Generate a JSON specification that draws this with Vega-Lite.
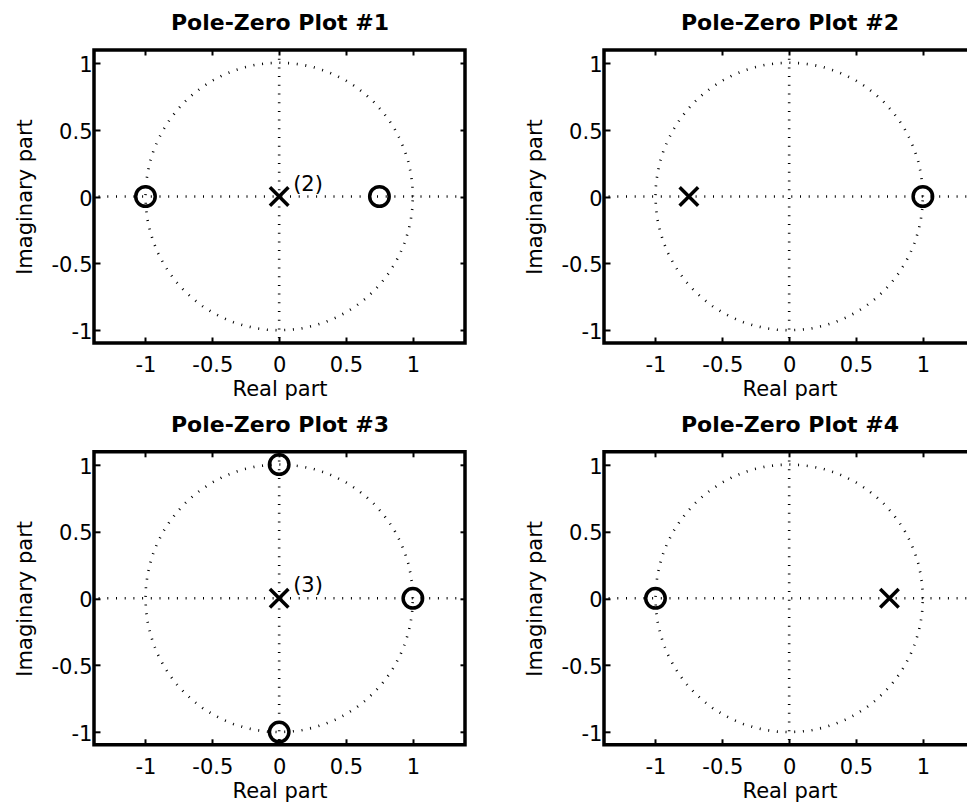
{
  "$schema": "https://vega.github.io/schema/vega-lite/v6.json",
  "padding": {"left": 12, "top": 9, "right": 0, "bottom": 0},
  "background": "white",
  "datasets": {
    "circle": [
      {"i":0,"re":1,"im":0},{"i":1,"re":0.9962,"im":0.0872},{"i":2,"re":0.9848,"im":0.1736},{"i":3,"re":0.9659,"im":0.2588},{"i":4,"re":0.9397,"im":0.342},{"i":5,"re":0.9063,"im":0.4226},{"i":6,"re":0.866,"im":0.5},{"i":7,"re":0.8192,"im":0.5736},{"i":8,"re":0.766,"im":0.6428},{"i":9,"re":0.7071,"im":0.7071},{"i":10,"re":0.6428,"im":0.766},{"i":11,"re":0.5736,"im":0.8192},{"i":12,"re":0.5,"im":0.866},{"i":13,"re":0.4226,"im":0.9063},{"i":14,"re":0.342,"im":0.9397},{"i":15,"re":0.2588,"im":0.9659},{"i":16,"re":0.1736,"im":0.9848},{"i":17,"re":0.0872,"im":0.9962},{"i":18,"re":0,"im":1},
      {"i":19,"re":-0.0872,"im":0.9962},{"i":20,"re":-0.1736,"im":0.9848},{"i":21,"re":-0.2588,"im":0.9659},{"i":22,"re":-0.342,"im":0.9397},{"i":23,"re":-0.4226,"im":0.9063},{"i":24,"re":-0.5,"im":0.866},{"i":25,"re":-0.5736,"im":0.8192},{"i":26,"re":-0.6428,"im":0.766},{"i":27,"re":-0.7071,"im":0.7071},{"i":28,"re":-0.766,"im":0.6428},{"i":29,"re":-0.8192,"im":0.5736},{"i":30,"re":-0.866,"im":0.5},{"i":31,"re":-0.9063,"im":0.4226},{"i":32,"re":-0.9397,"im":0.342},{"i":33,"re":-0.9659,"im":0.2588},{"i":34,"re":-0.9848,"im":0.1736},{"i":35,"re":-0.9962,"im":0.0872},{"i":36,"re":-1,"im":0},
      {"i":37,"re":-0.9962,"im":-0.0872},{"i":38,"re":-0.9848,"im":-0.1736},{"i":39,"re":-0.9659,"im":-0.2588},{"i":40,"re":-0.9397,"im":-0.342},{"i":41,"re":-0.9063,"im":-0.4226},{"i":42,"re":-0.866,"im":-0.5},{"i":43,"re":-0.8192,"im":-0.5736},{"i":44,"re":-0.766,"im":-0.6428},{"i":45,"re":-0.7071,"im":-0.7071},{"i":46,"re":-0.6428,"im":-0.766},{"i":47,"re":-0.5736,"im":-0.8192},{"i":48,"re":-0.5,"im":-0.866},{"i":49,"re":-0.4226,"im":-0.9063},{"i":50,"re":-0.342,"im":-0.9397},{"i":51,"re":-0.2588,"im":-0.9659},{"i":52,"re":-0.1736,"im":-0.9848},{"i":53,"re":-0.0872,"im":-0.9962},{"i":54,"re":0,"im":-1},
      {"i":55,"re":0.0872,"im":-0.9962},{"i":56,"re":0.1736,"im":-0.9848},{"i":57,"re":0.2588,"im":-0.9659},{"i":58,"re":0.342,"im":-0.9397},{"i":59,"re":0.4226,"im":-0.9063},{"i":60,"re":0.5,"im":-0.866},{"i":61,"re":0.5736,"im":-0.8192},{"i":62,"re":0.6428,"im":-0.766},{"i":63,"re":0.7071,"im":-0.7071},{"i":64,"re":0.766,"im":-0.6428},{"i":65,"re":0.8192,"im":-0.5736},{"i":66,"re":0.866,"im":-0.5},{"i":67,"re":0.9063,"im":-0.4226},{"i":68,"re":0.9397,"im":-0.342},{"i":69,"re":0.9659,"im":-0.2588},{"i":70,"re":0.9848,"im":-0.1736},{"i":71,"re":0.9962,"im":-0.0872},{"i":72,"re":1,"im":0}
    ],
    "origin": [{"v": 0}],
    "pz": [
      {"plot":1,"kind":"zero","re":-1,"im":0},{"plot":1,"kind":"zero","re":0.75,"im":0},{"plot":1,"kind":"pole","re":0,"im":0},
      {"plot":2,"kind":"pole","re":-0.75,"im":0},{"plot":2,"kind":"zero","re":1,"im":0},
      {"plot":3,"kind":"zero","re":0,"im":1},{"plot":3,"kind":"zero","re":0,"im":-1},{"plot":3,"kind":"zero","re":1,"im":0},{"plot":3,"kind":"pole","re":0,"im":0},
      {"plot":4,"kind":"zero","re":-1,"im":0},{"plot":4,"kind":"pole","re":0.75,"im":0}
    ],
    "mult": [
      {"plot":1,"re":0,"im":0,"label":"(2)"},
      {"plot":3,"re":0,"im":0,"label":"(3)"}
    ]
  },
  "columns": 2,
  "spacing": {"row": 108.8, "column": 139},
  "bounds": "flush",
  "concat": [
    {
      "width": 371, "height": 293,
      "resolve": {"axis": {"x": "independent", "y": "independent"}},
      "layer": [
        {"data": {"name": "circle"},
         "mark": {"type": "line", "strokeDash": [1, 7.7], "strokeWidth": 2.6, "color": "black", "strokeCap": "butt"},
         "encoding": {
           "x": {"field": "re", "type": "quantitative", "scale": {"domain": [-1.385, 1.39], "nice": false, "zero": false},
                 "axis": {"orient": "bottom", "title": "Real part", "values": [-1,-0.5,0,0.5,1], "format": "~g", "labelExpr": "datum.value < 0 ? replace(datum.label, '\u2212', '-') + '\u2007' : datum.label", "labelPadding": 17.7, "labelBaseline": "top", "titleX": 185.5, "titleY": 52.5, "titleBaseline": "alphabetic", "titleAlign": "center"}},
           "y": {"field": "im", "type": "quantitative", "scale": {"domain": [-1.095, 1.095], "nice": false, "zero": false},
                 "axis": {"orient": "left", "title": "Imaginary part", "values": [-1,-0.5,0,0.5,1], "format": "~g", "labelExpr": "replace(datum.label, '\u2212', '-')", "labelPadding": 8, "labelOffset": 2.5, "titleX": -63, "titleY": 146.5, "titleAngle": 270, "titleBaseline": "alphabetic", "titleAlign": "center"}},
           "order": {"field": "i", "type": "quantitative"}}},
        {"data": {"name": "origin"},
         "mark": {"type": "rule", "strokeDash": [1, 7.7], "strokeWidth": 2.6, "color": "black", "strokeCap": "butt"},
         "encoding": {"y": {"field": "v", "type": "quantitative", "scale": {"domain": [-1.095, 1.095], "nice": false, "zero": false}, "axis": null}}},
        {"data": {"name": "origin"},
         "mark": {"type": "rule", "strokeDash": [1, 7.7], "strokeWidth": 2.6, "color": "black", "strokeCap": "butt"},
         "encoding": {"x": {"field": "v", "type": "quantitative", "scale": {"domain": [-1.385, 1.39], "nice": false, "zero": false}, "axis": null}}},
        {"data": {"name": "pz"}, "transform": [{"filter": "datum.plot == 1"}],
         "mark": {"type": "point", "filled": false, "size": 380, "strokeWidth": 3.5, "color": "black", "opacity": 1},
         "encoding": {
           "x": {"field": "re", "type": "quantitative", "scale": {"domain": [-1.385, 1.39], "nice": false, "zero": false}, "axis": {"orient": "top", "values": [-1,-0.5,0,0.5,1], "labels": false, "title": "Pole-Zero Plot #1", "tickSize": -5, "titleX": 185.5, "titleY": -20.5, "titleBaseline": "alphabetic", "titleAlign": "center", "titleFontSize": 22, "titleFontWeight": "bold"}},
           "y": {"field": "im", "type": "quantitative", "scale": {"domain": [-1.095, 1.095], "nice": false, "zero": false}, "axis": {"orient": "right", "values": [-1,-0.5,0,0.5,1], "labels": false, "title": null, "tickSize": -5}},
           "shape": {"field": "kind", "type": "nominal", "scale": {"domain": ["zero", "pole"], "range": ["circle", "M-0.95,-0.95L0.95,0.95M0.95,-0.95L-0.95,0.95"]}, "legend": null}}},
        {"data": {"name": "mult"}, "transform": [{"filter": "datum.plot == 1"}],
         "mark": {"type": "text", "align": "left", "baseline": "alphabetic", "dx": 14, "dy": -6, "fontSize": 21, "color": "black", "font": "DejaVu Sans"},
         "encoding": {
           "x": {"field": "re", "type": "quantitative", "scale": {"domain": [-1.385, 1.39], "nice": false, "zero": false}, "axis": null},
           "y": {"field": "im", "type": "quantitative", "scale": {"domain": [-1.095, 1.095], "nice": false, "zero": false}, "axis": null},
           "text": {"field": "label"}}}
      ]
    },
    {
      "width": 371, "height": 293,
      "resolve": {"axis": {"x": "independent", "y": "independent"}},
      "layer": [
        {"data": {"name": "circle"},
         "mark": {"type": "line", "strokeDash": [1, 7.7], "strokeWidth": 2.6, "color": "black", "strokeCap": "butt"},
         "encoding": {
           "x": {"field": "re", "type": "quantitative", "scale": {"domain": [-1.385, 1.39], "nice": false, "zero": false},
                 "axis": {"orient": "bottom", "title": "Real part", "values": [-1,-0.5,0,0.5,1], "format": "~g", "labelExpr": "datum.value < 0 ? replace(datum.label, '\u2212', '-') + '\u2007' : datum.label", "labelPadding": 17.7, "labelBaseline": "top", "titleX": 185.5, "titleY": 52.5, "titleBaseline": "alphabetic", "titleAlign": "center"}},
           "y": {"field": "im", "type": "quantitative", "scale": {"domain": [-1.095, 1.095], "nice": false, "zero": false},
                 "axis": {"orient": "left", "title": "Imaginary part", "values": [-1,-0.5,0,0.5,1], "format": "~g", "labelExpr": "replace(datum.label, '\u2212', '-')", "labelPadding": 8, "labelOffset": 2.5, "titleX": -63, "titleY": 146.5, "titleAngle": 270, "titleBaseline": "alphabetic", "titleAlign": "center"}},
           "order": {"field": "i", "type": "quantitative"}}},
        {"data": {"name": "origin"},
         "mark": {"type": "rule", "strokeDash": [1, 7.7], "strokeWidth": 2.6, "color": "black", "strokeCap": "butt"},
         "encoding": {"y": {"field": "v", "type": "quantitative", "scale": {"domain": [-1.095, 1.095], "nice": false, "zero": false}, "axis": null}}},
        {"data": {"name": "origin"},
         "mark": {"type": "rule", "strokeDash": [1, 7.7], "strokeWidth": 2.6, "color": "black", "strokeCap": "butt"},
         "encoding": {"x": {"field": "v", "type": "quantitative", "scale": {"domain": [-1.385, 1.39], "nice": false, "zero": false}, "axis": null}}},
        {"data": {"name": "pz"}, "transform": [{"filter": "datum.plot == 2"}],
         "mark": {"type": "point", "filled": false, "size": 380, "strokeWidth": 3.5, "color": "black", "opacity": 1},
         "encoding": {
           "x": {"field": "re", "type": "quantitative", "scale": {"domain": [-1.385, 1.39], "nice": false, "zero": false}, "axis": {"orient": "top", "values": [-1,-0.5,0,0.5,1], "labels": false, "title": "Pole-Zero Plot #2", "tickSize": -5, "titleX": 185.5, "titleY": -20.5, "titleBaseline": "alphabetic", "titleAlign": "center", "titleFontSize": 22, "titleFontWeight": "bold"}},
           "y": {"field": "im", "type": "quantitative", "scale": {"domain": [-1.095, 1.095], "nice": false, "zero": false}, "axis": {"orient": "right", "values": [-1,-0.5,0,0.5,1], "labels": false, "title": null, "tickSize": -5}},
           "shape": {"field": "kind", "type": "nominal", "scale": {"domain": ["zero", "pole"], "range": ["circle", "M-0.95,-0.95L0.95,0.95M0.95,-0.95L-0.95,0.95"]}, "legend": null}}}
      ]
    },
    {
      "width": 371, "height": 293,
      "resolve": {"axis": {"x": "independent", "y": "independent"}},
      "layer": [
        {"data": {"name": "circle"},
         "mark": {"type": "line", "strokeDash": [1, 7.7], "strokeWidth": 2.6, "color": "black", "strokeCap": "butt"},
         "encoding": {
           "x": {"field": "re", "type": "quantitative", "scale": {"domain": [-1.385, 1.39], "nice": false, "zero": false},
                 "axis": {"orient": "bottom", "title": "Real part", "values": [-1,-0.5,0,0.5,1], "format": "~g", "labelExpr": "datum.value < 0 ? replace(datum.label, '\u2212', '-') + '\u2007' : datum.label", "labelPadding": 17.7, "labelBaseline": "top", "titleX": 185.5, "titleY": 52.5, "titleBaseline": "alphabetic", "titleAlign": "center"}},
           "y": {"field": "im", "type": "quantitative", "scale": {"domain": [-1.095, 1.095], "nice": false, "zero": false},
                 "axis": {"orient": "left", "title": "Imaginary part", "values": [-1,-0.5,0,0.5,1], "format": "~g", "labelExpr": "replace(datum.label, '\u2212', '-')", "labelPadding": 8, "labelOffset": 2.5, "titleX": -63, "titleY": 146.5, "titleAngle": 270, "titleBaseline": "alphabetic", "titleAlign": "center"}},
           "order": {"field": "i", "type": "quantitative"}}},
        {"data": {"name": "origin"},
         "mark": {"type": "rule", "strokeDash": [1, 7.7], "strokeWidth": 2.6, "color": "black", "strokeCap": "butt"},
         "encoding": {"y": {"field": "v", "type": "quantitative", "scale": {"domain": [-1.095, 1.095], "nice": false, "zero": false}, "axis": null}}},
        {"data": {"name": "origin"},
         "mark": {"type": "rule", "strokeDash": [1, 7.7], "strokeWidth": 2.6, "color": "black", "strokeCap": "butt"},
         "encoding": {"x": {"field": "v", "type": "quantitative", "scale": {"domain": [-1.385, 1.39], "nice": false, "zero": false}, "axis": null}}},
        {"data": {"name": "pz"}, "transform": [{"filter": "datum.plot == 3"}],
         "mark": {"type": "point", "filled": false, "size": 380, "strokeWidth": 3.5, "color": "black", "opacity": 1},
         "encoding": {
           "x": {"field": "re", "type": "quantitative", "scale": {"domain": [-1.385, 1.39], "nice": false, "zero": false}, "axis": {"orient": "top", "values": [-1,-0.5,0,0.5,1], "labels": false, "title": "Pole-Zero Plot #3", "tickSize": -5, "titleX": 185.5, "titleY": -20.5, "titleBaseline": "alphabetic", "titleAlign": "center", "titleFontSize": 22, "titleFontWeight": "bold"}},
           "y": {"field": "im", "type": "quantitative", "scale": {"domain": [-1.095, 1.095], "nice": false, "zero": false}, "axis": {"orient": "right", "values": [-1,-0.5,0,0.5,1], "labels": false, "title": null, "tickSize": -5}},
           "shape": {"field": "kind", "type": "nominal", "scale": {"domain": ["zero", "pole"], "range": ["circle", "M-0.95,-0.95L0.95,0.95M0.95,-0.95L-0.95,0.95"]}, "legend": null}}},
        {"data": {"name": "mult"}, "transform": [{"filter": "datum.plot == 3"}],
         "mark": {"type": "text", "align": "left", "baseline": "alphabetic", "dx": 14, "dy": -6, "fontSize": 21, "color": "black", "font": "DejaVu Sans"},
         "encoding": {
           "x": {"field": "re", "type": "quantitative", "scale": {"domain": [-1.385, 1.39], "nice": false, "zero": false}, "axis": null},
           "y": {"field": "im", "type": "quantitative", "scale": {"domain": [-1.095, 1.095], "nice": false, "zero": false}, "axis": null},
           "text": {"field": "label"}}}
      ]
    },
    {
      "width": 371, "height": 293,
      "resolve": {"axis": {"x": "independent", "y": "independent"}},
      "layer": [
        {"data": {"name": "circle"},
         "mark": {"type": "line", "strokeDash": [1, 7.7], "strokeWidth": 2.6, "color": "black", "strokeCap": "butt"},
         "encoding": {
           "x": {"field": "re", "type": "quantitative", "scale": {"domain": [-1.385, 1.39], "nice": false, "zero": false},
                 "axis": {"orient": "bottom", "title": "Real part", "values": [-1,-0.5,0,0.5,1], "format": "~g", "labelExpr": "datum.value < 0 ? replace(datum.label, '\u2212', '-') + '\u2007' : datum.label", "labelPadding": 17.7, "labelBaseline": "top", "titleX": 185.5, "titleY": 52.5, "titleBaseline": "alphabetic", "titleAlign": "center"}},
           "y": {"field": "im", "type": "quantitative", "scale": {"domain": [-1.095, 1.095], "nice": false, "zero": false},
                 "axis": {"orient": "left", "title": "Imaginary part", "values": [-1,-0.5,0,0.5,1], "format": "~g", "labelExpr": "replace(datum.label, '\u2212', '-')", "labelPadding": 8, "labelOffset": 2.5, "titleX": -63, "titleY": 146.5, "titleAngle": 270, "titleBaseline": "alphabetic", "titleAlign": "center"}},
           "order": {"field": "i", "type": "quantitative"}}},
        {"data": {"name": "origin"},
         "mark": {"type": "rule", "strokeDash": [1, 7.7], "strokeWidth": 2.6, "color": "black", "strokeCap": "butt"},
         "encoding": {"y": {"field": "v", "type": "quantitative", "scale": {"domain": [-1.095, 1.095], "nice": false, "zero": false}, "axis": null}}},
        {"data": {"name": "origin"},
         "mark": {"type": "rule", "strokeDash": [1, 7.7], "strokeWidth": 2.6, "color": "black", "strokeCap": "butt"},
         "encoding": {"x": {"field": "v", "type": "quantitative", "scale": {"domain": [-1.385, 1.39], "nice": false, "zero": false}, "axis": null}}},
        {"data": {"name": "pz"}, "transform": [{"filter": "datum.plot == 4"}],
         "mark": {"type": "point", "filled": false, "size": 380, "strokeWidth": 3.5, "color": "black", "opacity": 1},
         "encoding": {
           "x": {"field": "re", "type": "quantitative", "scale": {"domain": [-1.385, 1.39], "nice": false, "zero": false}, "axis": {"orient": "top", "values": [-1,-0.5,0,0.5,1], "labels": false, "title": "Pole-Zero Plot #4", "tickSize": -5, "titleX": 185.5, "titleY": -20.5, "titleBaseline": "alphabetic", "titleAlign": "center", "titleFontSize": 22, "titleFontWeight": "bold"}},
           "y": {"field": "im", "type": "quantitative", "scale": {"domain": [-1.095, 1.095], "nice": false, "zero": false}, "axis": {"orient": "right", "values": [-1,-0.5,0,0.5,1], "labels": false, "title": null, "tickSize": -5}},
           "shape": {"field": "kind", "type": "nominal", "scale": {"domain": ["zero", "pole"], "range": ["circle", "M-0.95,-0.95L0.95,0.95M0.95,-0.95L-0.95,0.95"]}, "legend": null}}}
      ]
    }
  ],
  "config": {
    "font": "DejaVu Sans",
    "view": {"stroke": "black", "strokeWidth": 3.5},
    "axis": {
      "grid": false, "domain": false,
      "tickColor": "black", "tickWidth": 2, "tickSize": -6,
      "labelFont": "DejaVu Sans", "labelFontSize": 21, "labelColor": "black",
      "labelFlush": false, "labelOverlap": false,
      "titleFont": "DejaVu Sans", "titleFontSize": 21, "titleFontWeight": "normal", "titleColor": "black"
    }
  }
}
